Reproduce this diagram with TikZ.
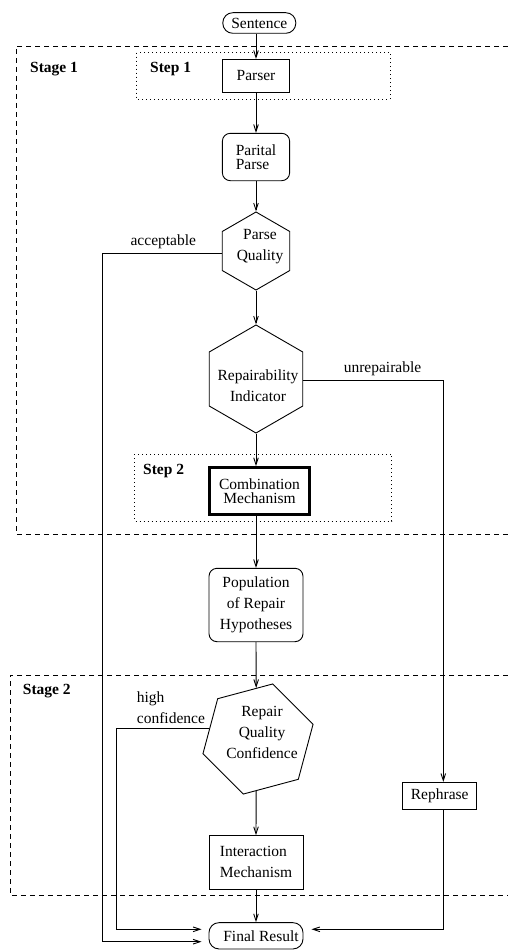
\documentclass[tikz,border=0pt]{standalone}
\usepackage{fontspec}
\setmainfont{Liberation Serif}
\usetikzlibrary{arrows.meta,shapes.geometric}

\begin{document}
\begin{tikzpicture}[x=1pt,y=-1pt,
  every node/.style={font=\fontsize{15.5}{18}\selectfont, inner sep=0pt},
  ln/.style={line width=0.9pt},
  arr/.style={ln, -{Straight Barb[length=7pt,width=4.6pt,line width=0.9pt]}},
  rect/.style={draw, ln},
  rrect/.style={draw, ln, rounded corners=8pt},
  pill/.style={draw, ln, rounded corners=10pt},
  hexa/.style={draw, ln, regular polygon, regular polygon sides=6},
  tight/.style={font=\fontsize{15.5}{14}\selectfont},
  loose/.style={font=\fontsize{15.5}{21}\selectfont},
  lbl/.style={font=\fontsize{15.5}{18}\selectfont\bfseries, anchor=west},
  stage/.style={ln, dash pattern=on 5pt off 4pt},
  stepframe/.style={ln, dash pattern=on 1pt off 3pt}
]
\useasboundingbox (0,0) rectangle (508,950);

% stage and step frames
\draw[stage] (508,46) -- (16,46) -- (16,534) -- (508,534);
\draw[stage] (508,675) -- (10,675) -- (10,895) -- (508,895);
\draw[stepframe] (136.7,52.7) rectangle (390,99.3);
\draw[stepframe] (134.3,454.3) rectangle (391.7,521);

\node[lbl] (stage1) at (30,69) {Stage 1};
\node[lbl] (step1) at (150,69) {Step 1};
\node[lbl] (step2) at (143,470.7) {Step 2};
\node[lbl] (stage2) at (22.7,690.7) {Stage 2};

% main column
\node[pill, minimum width=73pt, minimum height=20.6pt] (sentence) at (259.3,23) {Sentence};
\node[rect, minimum width=66.6pt, minimum height=33.4pt] (parser) at (256,76) {Parser};
\node[rrect, tight, align=left, minimum width=67.3pt, minimum height=47.4pt] (parital) at (256,157) {Parital\\Parse};

\node[hexa, minimum size=78pt, regular polygon rotate=30] (pq) at (256,251) {};
\node[loose, align=center] (pqt) at (260,247) {Parse\\Quality};

\node[hexa, minimum size=108pt, regular polygon rotate=30] (ri) at (256,379) {};
\node[loose, align=center] (rit) at (258,386) {Repairability\\Indicator};

\node[draw, line width=3pt, tight, align=center, minimum width=99.4pt, minimum height=46.7pt] (comb) at (259.5,491) {Combination\\Mechanism};

\node[rrect, loose, align=center, minimum width=94pt, minimum height=73.4pt] (pop) at (256,605) {Population\\of Repair\\Hypotheses};

\node[hexa, minimum size=114pt, regular polygon rotate=15] (rqc) at (258,739) {};
\node[loose, align=center] (rqct) at (262,732) {Repair\\Quality\\Confidence};

\node[rect, loose, align=left, minimum width=94pt, minimum height=53.3pt] (im) at (256,862.3) {Interaction\\Mechanism};
\node[pill, minimum width=94pt, minimum height=26.3pt] (final) at (256,935.8) {\hspace*{10pt}Final Result};

\node[rect, minimum width=74pt, minimum height=26.7pt] (reph) at (439.7,795.7) {Rephrase};

% branch labels
\node (acc) at (163.3,241.7) {acceptable};
\node (unrep) at (382.5,369) {unrepairable};
\node[loose, align=left, anchor=west] (hiconf) at (136.7,707.5) {high\\confidence};

% bend points of the side routes
\coordinate (accB) at (102.7,941.7);
\coordinate (hcB) at (116,929.3);

% connectors
\draw[arr] (parser.north |- sentence.south) -- (parser.north);
\draw[arr] (parser.south) -- (parital.north);
\draw[arr] (parital.south) -- (pq.north);
\draw[arr] (pq.south) -- (ri.north);
\draw[arr] (ri.south) -- (ri.south |- comb.north);
\draw[arr] (ri.south |- comb.south) -- (pop.north);
\draw[arr] (pop.south) -- (rqc.92);
\draw[arr] (rqc.268) -- (im.north);
\draw[arr] (im.south) -- (final.north);

\draw[arr, shorten >=7pt] (pq.184.6) -| (accB) -- (final.west |- accB);
\draw[arr, shorten >=7pt] (rqc.168) -| (hcB) -- (final.west |- hcB);
\draw[arr] (ri.-2) -| ([xshift=3.6pt]reph.north);
\draw[arr, shorten >=8pt] ([xshift=3.6pt]reph.south) |- (final.east |- hcB);
\end{tikzpicture}
\end{document}
